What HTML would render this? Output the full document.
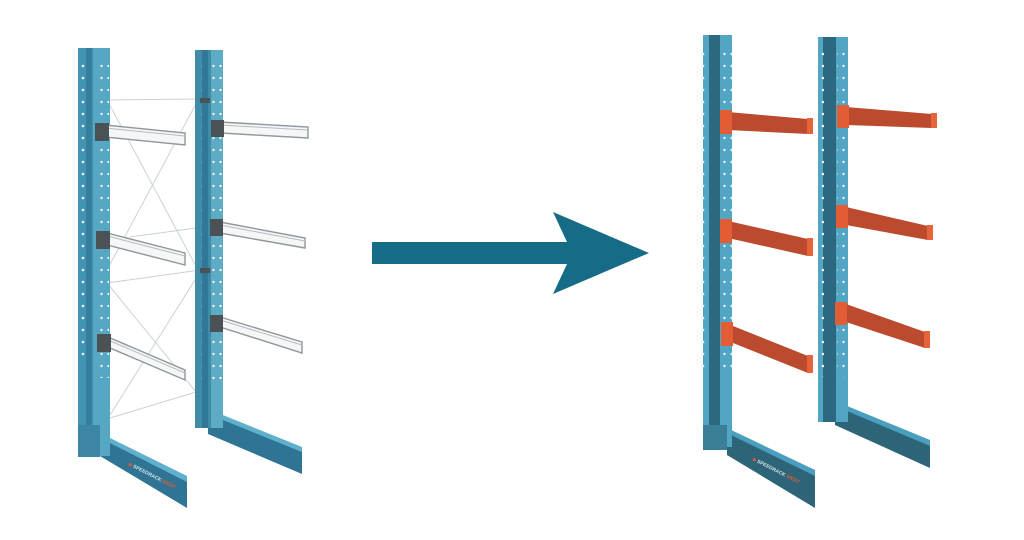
<!DOCTYPE html>
<html><head><style>html,body{margin:0;padding:0;background:#fff;}svg{display:block}</style></head>
<body>
<svg width="1024" height="540" viewBox="0 0 1024 540" xmlns="http://www.w3.org/2000/svg">
<defs>
<pattern id="h1" width="10" height="12" patternUnits="userSpaceOnUse"><circle cx="3" cy="6" r="1.3" fill="#e8f3f7"/></pattern>
<pattern id="h2" width="7" height="12" patternUnits="userSpaceOnUse"><circle cx="3.5" cy="6" r="1.2" fill="#e8f3f7"/></pattern>
</defs>
<g stroke="#c9d2d6" stroke-width="1" fill="none">
<line x1="107" y1="100" x2="198" y2="99"/>
<line x1="130" y1="237" x2="196" y2="228"/>
<line x1="107" y1="283" x2="200" y2="270"/>
<line x1="110" y1="418" x2="196" y2="392"/>
<line x1="107" y1="100" x2="198" y2="270"/>
<line x1="198" y1="100" x2="107" y2="270"/>
<line x1="107" y1="283" x2="196" y2="392"/>
<line x1="200" y1="272" x2="110" y2="415"/>
</g>
<!-- left rack column 1 -->
<polygon points="100,437 187,480 187,508 100,456" fill="#2f7593"/>
<polygon points="100,433 187,476 187,482 100,438" fill="#5fb0cc"/>
<rect x="78" y="48" width="32" height="408" fill="#55a7c3"/>
<rect x="78" y="48" width="15" height="408" fill="#4394b2"/>
<rect x="86" y="48" width="6" height="408" fill="#357f9d"/>
<rect x="79" y="58" width="6" height="300" fill="url(#h1)"/>
<rect x="96" y="58" width="13" height="320" fill="url(#h2)"/>
<rect x="78" y="425" width="22" height="32" fill="#3c86a3"/>
<!-- left rack column 2 -->
<polygon points="208,412 302,450 302,474 208,434" fill="#2f7593"/>
<polygon points="208,409 302,447 302,452 208,414" fill="#5fb0cc"/>
<rect x="195" y="50" width="28" height="378" fill="#5eabc6"/>
<rect x="195" y="50" width="16" height="378" fill="#408ba7"/>
<rect x="202" y="50" width="6" height="378" fill="#307996"/>
<rect x="196" y="58" width="6" height="330" fill="url(#h1)"/>
<rect x="211" y="58" width="12" height="330" fill="url(#h2)"/>
<!-- left wire arms -->
<g fill="#f4f6f7" stroke="#8e979b" stroke-width="1.4">
<polygon points="105,125 185,133 185,145 105,137"/>
<polygon points="107,233 185,253 185,265 107,245"/>
<polygon points="108,337 185,370 185,380 110,348"/>
<polygon points="220,122 308,127 308,138 220,133"/>
<polygon points="220,222 305,238 305,248 220,233"/>
<polygon points="220,317 302,342 302,353 220,327"/>
</g>
<g fill="none" stroke="#b5bcbf" stroke-width="1">
<line x1="105" y1="128" x2="185" y2="136"/><line x1="107" y1="236" x2="185" y2="256"/><line x1="108" y1="340" x2="185" y2="373"/>
<line x1="220" y1="125" x2="308" y2="130"/><line x1="220" y1="225" x2="305" y2="241"/><line x1="220" y1="320" x2="302" y2="345"/>
</g>
<g fill="#4a5256">
<rect x="95" y="123" width="14" height="18"/><rect x="96" y="231" width="14" height="18"/><rect x="97" y="334" width="14" height="18"/>
<rect x="211" y="120" width="13" height="17"/><rect x="210" y="219" width="13" height="17"/><rect x="210" y="315" width="13" height="17"/>
<rect x="200" y="98" width="10" height="5"/><rect x="200" y="268" width="10" height="5"/>
</g>
<!-- arrow -->
<polygon points="372,242 567,242 553,212 649,253 553,294 567,264 372,264" fill="#166b87"/>
<!-- right rack column 1 -->
<polygon points="727,432 815,474 815,508 727,455" fill="#2d6478"/>
<polygon points="727,428 815,470 815,476 727,433" fill="#4a9fbe"/>
<rect x="703" y="35" width="29" height="412" fill="#52a6c3"/>
<rect x="709" y="35" width="11" height="412" fill="#2c6980"/>
<rect x="703" y="45" width="6" height="330" fill="url(#h1)"/>
<rect x="721" y="45" width="11" height="330" fill="url(#h2)"/>
<rect x="703" y="425" width="24" height="25" fill="#3a7e98"/>
<!-- right rack column 2 -->
<polygon points="835,405 930,444 930,468 835,425" fill="#2d6478"/>
<polygon points="835,401 930,440 930,446 835,406" fill="#4a9fbe"/>
<rect x="818" y="37" width="30" height="385" fill="#52a6c3"/>
<rect x="823" y="37" width="13" height="385" fill="#2c6980"/>
<rect x="818" y="47" width="6" height="330" fill="url(#h1)"/>
<rect x="837" y="47" width="11" height="330" fill="url(#h2)"/>
<!-- orange arms -->
<g>
<polygon points="728,112 808,119 808,134 728,130" fill="#bb4a2e"/><rect x="807" y="118" width="6" height="16" fill="#e5643c"/><rect x="720" y="110" width="12" height="24" fill="#e25d36"/>
<polygon points="728,221 808,239 808,256 728,238" fill="#bb4a2e"/><rect x="807" y="238" width="6" height="18" fill="#e5643c"/><rect x="720" y="219" width="12" height="24" fill="#e25d36"/>
<polygon points="728,324 808,356 808,373 728,341" fill="#bb4a2e"/><rect x="807" y="355" width="6" height="18" fill="#e5643c"/><rect x="721" y="322" width="12" height="24" fill="#e25d36"/>
<polygon points="846,107 932,114 932,128 846,125" fill="#bb4a2e"/><rect x="931" y="113" width="6" height="15" fill="#e5643c"/><rect x="837" y="105" width="12" height="23" fill="#e25d36"/>
<polygon points="846,207 928,226 928,240 846,225" fill="#bb4a2e"/><rect x="927" y="225" width="6" height="15" fill="#e5643c"/><rect x="836" y="205" width="12" height="23" fill="#e25d36"/>
<polygon points="846,304 925,332 925,348 846,322" fill="#bb4a2e"/><rect x="924" y="331" width="6" height="17" fill="#e5643c"/><rect x="835" y="302" width="12" height="23" fill="#e25d36"/>
</g>
<!-- logos -->
<g font-family="Liberation Sans, sans-serif" font-size="5" font-weight="bold">
<text x="128" y="465" fill="#e05a3a" transform="rotate(27 128 465)">◆ <tspan fill="#cfe3ea">SPEEDRACK</tspan> WEST</text>
<text x="752" y="460" fill="#e05a3a" transform="rotate(27 752 460)">◆ <tspan fill="#cfe3ea">SPEEDRACK</tspan> WEST</text>
</g>
</svg>
</body></html>
